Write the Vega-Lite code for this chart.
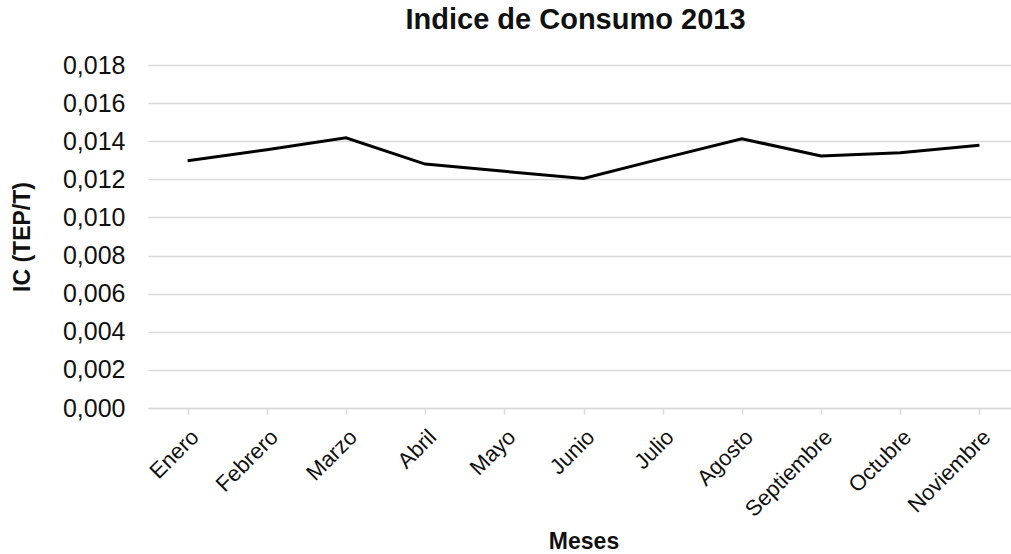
{
  "$schema": "https://vega.github.io/schema/vega-lite/v6.json",
  "autosize": {"type": "none"},
  "padding": {"left": 148, "top": 65, "right": 0, "bottom": 146},
  "width": 871,
  "height": 343,
  "background": "white",
  "title": {
    "text": "Indice de Consumo 2013",
    "font": "Liberation Sans",
    "fontSize": 29,
    "fontWeight": "bold",
    "color": "#111111",
    "anchor": "middle",
    "offset": 18,
    "dx": -8
  },
  "data": {
    "values": [
      {"mes": "Enero", "ic": 0.01297},
      {"mes": "Febrero", "ic": 0.01355},
      {"mes": "Marzo", "ic": 0.01418},
      {"mes": "Abril", "ic": 0.01280},
      {"mes": "Mayo", "ic": 0.01242},
      {"mes": "Junio", "ic": 0.01205},
      {"mes": "Julio", "ic": 0.01310},
      {"mes": "Agosto", "ic": 0.01413},
      {"mes": "Septiembre", "ic": 0.01322},
      {"mes": "Octubre", "ic": 0.01340},
      {"mes": "Noviembre", "ic": 0.01379}
    ]
  },
  "mark": {"type": "line", "color": "#000000", "strokeWidth": 3},
  "encoding": {
    "x": {
      "field": "mes",
      "type": "nominal",
      "sort": null,
      "scale": {"type": "point", "padding": 0.5},
      "axis": {
        "title": "Meses",
        "titleFont": "Liberation Sans",
        "titleFontSize": 23,
        "titleFontWeight": "bold",
        "titleColor": "#111111",
        "titlePadding": 10,
        "labelFont": "Liberation Sans",
        "labelFontSize": 22,
        "labelColor": "#111111",
        "labelAngle": -45,
        "labelPadding": 12,
        "domainColor": "#d9d9d9",
        "domainWidth": 1.5,
        "tickColor": "#d9d9d9",
        "tickSize": 6,
        "tickWidth": 1.5,
        "grid": false
      }
    },
    "y": {
      "field": "ic",
      "type": "quantitative",
      "scale": {"domain": [0, 0.018], "nice": false},
      "axis": {
        "title": "IC (TEP/T)",
        "titleFont": "Liberation Sans",
        "titleFontSize": 23,
        "titleFontWeight": "bold",
        "titleColor": "#111111",
        "titlePadding": 28,
        "values": [0, 0.002, 0.004, 0.006, 0.008, 0.01, 0.012, 0.014, 0.016, 0.018],
        "labelExpr": "replace(format(datum.value, '.3f'), '.', ',')",
        "labelFont": "Liberation Sans",
        "labelFontSize": 25,
        "labelColor": "#111111",
        "labelPadding": 23,
        "ticks": false,
        "domain": false,
        "grid": true,
        "gridColor": "#d9d9d9",
        "gridWidth": 1.5
      }
    }
  },
  "config": {"view": {"stroke": null}}
}
